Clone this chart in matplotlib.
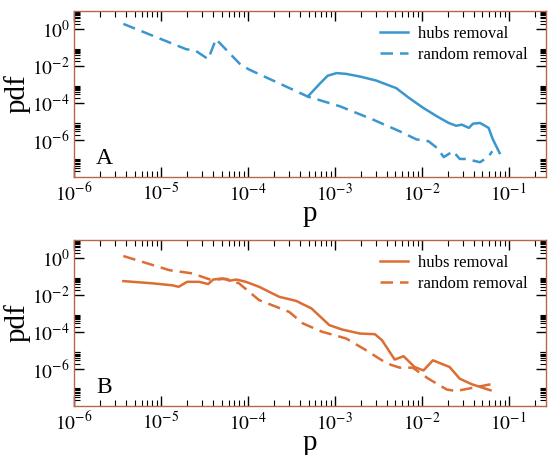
import matplotlib
matplotlib.use("Agg")
import matplotlib.pyplot as plt
from matplotlib.ticker import FixedLocator, NullFormatter

plt.rcParams['font.family'] = ['Liberation Serif', 'DejaVu Serif']
plt.rcParams['mathtext.fontset'] = 'stix'

# panel A (blue)
pA_hubs = [4.9e-4, 6.8e-4, 8.3e-4, 1.05e-3, 1.35e-3, 1.95e-3, 3.0e-3, 4.3e-3, 5.1e-3,
           7.2e-3, 1.05e-2, 1.5e-2, 2.05e-2, 2.5e-2, 2.9e-2, 3.5e-2, 3.9e-2, 4.7e-2,
           5.9e-2, 6.6e-2, 7.9e-2]
pdfA_hubs = [2.3e-4, 1.2e-3, 3.1e-3, 4.3e-3, 3.9e-3, 2.8e-3, 1.7e-3, 8.9e-4, 6.6e-4,
             1.9e-4, 5.5e-5, 1.95e-5, 8.5e-6, 6.0e-6, 6.9e-6, 4.6e-6, 7.8e-6, 8.5e-6,
             4.6e-6, 1.1e-6, 2.0e-7]
pA_rand = [3.7e-6, 1.95e-5, 2.5e-5, 3.5e-5, 4.3e-5, 8.3e-5, 1.05e-4, 4.9e-4, 1.15e-3,
           2.75e-3, 5.6e-3, 8.7e-3, 1.2e-2, 1.5e-2, 1.8e-2, 2.3e-2, 2.75e-2, 3.3e-2,
           4.7e-2, 5.9e-2, 6.5e-2]
pdfA_rand = [2.0, 8.5e-2, 7.1e-2, 2.45e-2, 0.30, 1.2e-2, 6.5e-3, 2.3e-4, 6.8e-5,
             1.3e-5, 3.0e-6, 1.1e-6, 8.7e-7, 3.8e-7, 1.2e-7, 2.5e-7, 9.5e-8, 9.5e-8,
             6.3e-8, 1.3e-7, 2.5e-7]

# panel B (orange)
pB_hubs = [3.7e-6, 7.9e-6, 1.35e-5, 1.6e-5, 2.0e-5, 2.75e-5, 3.5e-5, 4.0e-5, 5.1e-5,
           6.2e-5, 7.4e-5, 9.5e-5, 1.35e-4, 2.3e-4, 3.6e-4, 5.4e-4, 8.7e-4, 1.23e-3,
           1.95e-3, 2.9e-3, 3.5e-3, 4.9e-3, 6.2e-3, 8.3e-3, 1.05e-2, 1.35e-2, 2.1e-2,
           2.75e-2, 3.8e-2, 6.2e-2]
pdfB_hubs = [5.9e-2, 4.5e-2, 3.5e-2, 2.9e-2, 5.4e-2, 5.4e-2, 4.1e-2, 7.2e-2, 8.3e-2,
             6.2e-2, 7.2e-2, 5.4e-2, 2.9e-2, 8.3e-3, 5.0e-3, 1.95e-3, 2.4e-4, 1.38e-4,
             8.5e-5, 7.8e-5, 3.7e-5, 3.3e-6, 5.0e-6, 1.3e-6, 8.5e-7, 3.0e-6, 1.3e-6,
             3.0e-7, 1.5e-7, 7.1e-8]
pB_rand = [3.7e-6, 1.26e-5, 2.3e-5, 3.8e-5, 5.6e-5, 7.9e-5, 1.35e-4, 3.0e-4, 4.3e-4,
           7.2e-4, 1.35e-3, 2.3e-3, 4.0e-3, 5.6e-3, 7.9e-3, 1.2e-2, 1.95e-2, 2.5e-2,
           4.3e-2, 6.2e-2]
pdfB_rand = [1.35, 0.23, 0.155, 6.8e-2, 7.9e-2, 4.5e-2, 5.5e-3, 1.26e-3, 3.0e-4,
             1.05e-4, 4.6e-5, 1.05e-5, 2.0e-6, 1.2e-6, 1.2e-6, 3.0e-7, 7.8e-8, 6.5e-8,
             1.07e-7, 1.5e-7]

x_major = [1e-6, 1e-5, 1e-4, 1e-3, 1e-2, 1e-1]
x_labels = ['$10^{-6}$', '$10^{-5}$', '$10^{-4}$', '$10^{-3}$', '$10^{-2}$', '$10^{-1}$']
y_major = [1e-6, 1e-4, 1e-2, 1e0]
y_labels = ['$10^{-6}$', '$10^{-4}$', '$10^{-2}$', '$10^{0}$']

blue = '#3a96cf'
orange = '#dc6d33'
frame = '#b8664a'

fig = plt.figure(figsize=(5.51, 4.55), dpi=100)
axA = fig.add_axes([74 / 551, 1 - 177 / 455, 472 / 551, 166 / 455])
axB = fig.add_axes([74 / 551, 1 - 406 / 455, 472 / 551, 166 / 455])


def style_axis(ax, letter):
    ax.set_xscale('log')
    ax.set_yscale('log')
    ax.set_xlim(1e-6, 0.27)
    ax.set_ylim(1e-8, 10)
    ax.xaxis.set_major_locator(FixedLocator(x_major))
    ax.set_xticklabels(x_labels)
    ax.yaxis.set_major_locator(FixedLocator(y_major))
    ax.set_yticklabels(y_labels)
    xminor = [j * 10.0 ** k for k in range(-6, 0) for j in range(2, 10)]
    yminor = [j * 10.0 ** k for k in range(-8, 1, 2) for j in range(2, 10)]
    ax.xaxis.set_minor_locator(FixedLocator(xminor))
    ax.yaxis.set_minor_locator(FixedLocator(yminor))
    ax.xaxis.set_minor_formatter(NullFormatter())
    ax.yaxis.set_minor_formatter(NullFormatter())
    ax.tick_params(which='both', direction='in', top=True, right=True, colors='black',
                   labelsize=14)
    ax.tick_params(which='major', length=7, width=1)
    ax.tick_params(which='minor', length=4, width=0.8)
    ax.tick_params(axis='x', pad=4)
    ax.tick_params(axis='y', pad=3)
    for s in ax.spines.values():
        s.set_color(frame)
        s.set_linewidth(1.0)
    ax.set_xlabel('p', fontsize=21, labelpad=-3)
    ax.set_ylabel('pdf', fontsize=21, labelpad=1)
    ax.text(0.047, 0.08, letter, transform=ax.transAxes, fontsize=17)
    ax.legend(loc='upper left', bbox_to_anchor=(0.634, 0.95), frameon=False,
              fontsize=12, handlelength=1.7, handletextpad=0.6, labelspacing=0.3,
              borderaxespad=0)


axA.plot(pA_hubs, pdfA_hubs, color=blue, lw=1.8, label='hubs removal')
axA.plot(pA_rand, pdfA_rand, color=blue, lw=1.8, dashes=(5, 2.8), label='random removal')
style_axis(axA, 'A')

axB.plot(pB_hubs, pdfB_hubs, color=orange, lw=1.8, label='hubs removal')
axB.plot(pB_rand, pdfB_rand, color=orange, lw=1.8, dashes=(5, 2.8), label='random removal')
style_axis(axB, 'B')

fig.savefig('out.png', dpi=100)
